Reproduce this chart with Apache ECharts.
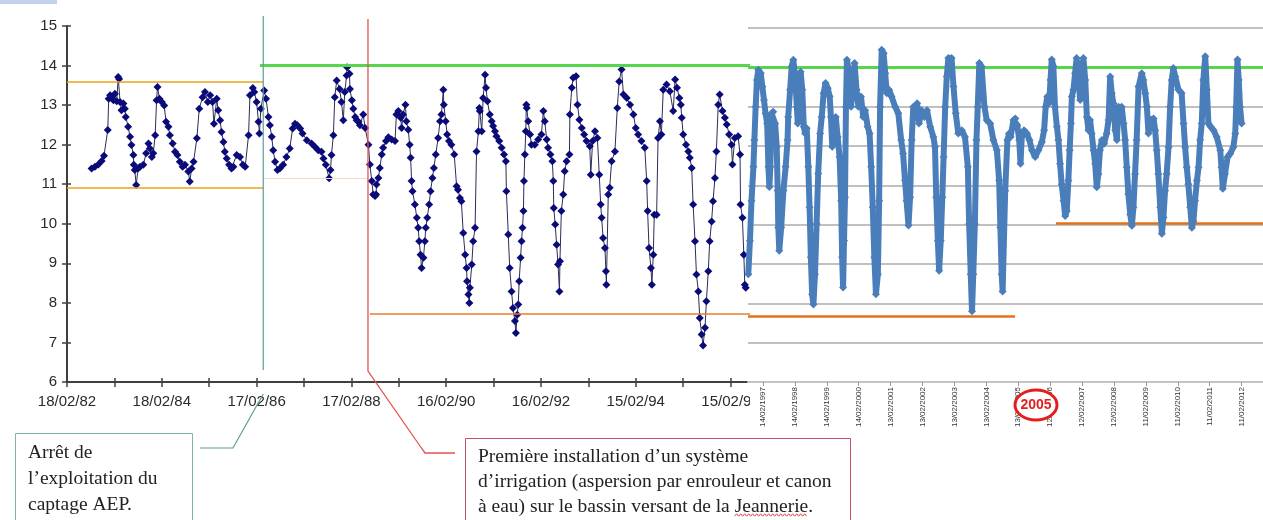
<!DOCTYPE html>
<html><head><meta charset="utf-8">
<script src="https://cdn.jsdelivr.net/npm/echarts@6/dist/echarts.min.js"></script>
<style>html,body{margin:0;padding:0;background:#fff}#c{width:1263px;height:520px}</style>
</head><body><div id="c"></div>
<script>
// ---- data: piezometric level (m) vs decimal year ----
const leftObservations = [[1982.65,11.40],[1982.72,11.44],[1982.79,11.50],[1982.86,11.59],[1982.91,11.72],[1982.99,12.37],[1983.01,13.16],[1983.04,13.25],[1983.07,13.18],[1983.11,13.12],[1983.14,13.29],[1983.18,13.10],[1983.21,13.71],[1983.23,13.66],[1983.25,13.08],[1983.28,12.87],[1983.32,13.04],[1983.35,12.91],[1983.37,12.70],[1983.42,12.45],[1983.46,12.20],[1983.49,11.99],[1983.53,11.74],[1983.54,11.49],[1983.56,11.36],[1983.59,10.98],[1983.63,11.40],[1983.67,11.44],[1983.74,11.49],[1983.80,11.78],[1983.85,12.03],[1983.88,11.90],[1983.92,11.69],[1983.95,11.78],[1983.99,12.24],[1984.02,13.12],[1984.04,13.46],[1984.08,13.16],[1984.13,13.08],[1984.18,12.99],[1984.22,12.58],[1984.27,12.45],[1984.30,12.24],[1984.36,12.03],[1984.41,11.82],[1984.46,11.74],[1984.51,11.57],[1984.57,11.44],[1984.62,11.49],[1984.69,11.32],[1984.72,11.07],[1984.76,11.40],[1984.80,11.57],[1984.87,12.16],[1984.92,12.91],[1984.99,13.20],[1985.04,13.33],[1985.10,13.08],[1985.15,13.25],[1985.20,13.08],[1985.23,12.53],[1985.29,13.16],[1985.32,12.87],[1985.36,12.62],[1985.39,12.32],[1985.43,12.07],[1985.46,11.82],[1985.50,11.65],[1985.55,11.49],[1985.60,11.40],[1985.64,11.44],[1985.71,11.74],[1985.78,11.69],[1985.84,11.49],[1985.89,11.44],[1985.96,12.24],[1985.99,13.25],[1986.05,13.43],[1986.08,13.33],[1986.13,13.08],[1986.17,12.58],[1986.19,12.28],[1986.22,12.91],[1986.29,13.37],[1986.33,13.16],[1986.38,12.70],[1986.41,12.49],[1986.45,12.20],[1986.48,11.86],[1986.52,11.57],[1986.57,11.36],[1986.62,11.40],[1986.69,11.49],[1986.76,11.69],[1986.83,11.90],[1986.89,12.41],[1986.94,12.53],[1986.99,12.49],[1987.05,12.41],[1987.10,12.28],[1987.19,12.11],[1987.29,12.03],[1987.36,11.95],[1987.43,11.86],[1987.50,11.82],[1987.54,11.65],[1987.59,11.49],[1987.66,11.15],[1987.69,11.36],[1987.71,11.74],[1987.75,12.24],[1987.78,13.20],[1987.82,13.62],[1987.88,13.41],[1987.92,13.08],[1987.96,12.62],[1987.99,13.33],[1988.03,13.75],[1988.04,13.96],[1988.09,13.79],[1988.10,13.41],[1988.14,13.12],[1988.17,12.91],[1988.21,12.70],[1988.24,12.62],[1988.28,12.58],[1988.31,12.49],[1988.38,12.76],[1988.42,12.42],
[1988.49,12.00],[1988.52,11.50],[1988.56,11.08],[1988.59,10.74],[1988.63,10.70],[1988.65,10.74],[1988.66,10.99],[1988.70,11.16],[1988.73,11.41],[1988.77,11.75],[1988.80,11.92],[1988.86,12.09],[1988.91,12.19],[1988.98,12.13],[1989.05,12.09],[1989.08,12.76],[1989.12,12.85],[1989.17,12.68],[1989.19,12.42],[1989.22,12.76],[1989.27,13.01],[1989.29,12.59],[1989.33,12.38],[1989.36,12.00],[1989.38,11.67],[1989.40,11.08],[1989.42,10.82],[1989.47,10.49],[1989.51,10.15],[1989.54,9.90],[1989.56,9.56],[1989.59,9.22],[1989.61,8.88],[1989.65,9.14],[1989.68,9.56],[1989.70,9.90],[1989.73,10.15],[1989.77,10.49],[1989.80,10.82],[1989.84,11.16],[1989.87,11.41],[1989.91,11.75],[1989.96,12.17],[1990.00,12.59],[1990.03,12.76],[1990.07,13.39],[1990.08,13.01],[1990.12,12.59],[1990.15,12.26],[1990.19,12.09],[1990.24,12.00],[1990.30,11.75],[1990.35,10.95],[1990.38,10.86],[1990.42,10.65],[1990.45,10.57],[1990.49,9.77],[1990.53,9.22],[1990.56,8.88],[1990.57,8.55],[1990.60,8.21],[1990.62,8.00],[1990.63,8.38],[1990.67,8.97],[1990.70,9.56],[1990.74,9.90],[1990.77,11.83],[1990.81,12.34],[1990.83,12.93],[1990.84,12.85],[1990.88,12.34],[1990.91,13.18],[1990.95,13.77],[1990.97,13.44],[1991.00,13.10],[1991.05,12.76],[1991.09,12.59],[1991.12,12.47],[1991.16,12.34],[1991.19,12.21],[1991.25,12.09],[1991.30,11.92],[1991.35,11.75],[1991.39,11.58],[1991.40,10.82],[1991.44,9.73],[1991.47,8.88],[1991.51,8.29],[1991.54,7.87],[1991.58,7.54],[1991.60,7.24],[1991.63,7.70],[1991.65,7.96],[1991.67,8.55],[1991.70,9.14],[1991.72,9.56],[1991.74,9.90],[1991.76,10.32],[1991.77,11.08],[1991.79,11.75],[1991.81,12.34],[1991.82,13.01],[1991.83,12.93],[1991.86,12.59],[1991.90,12.26],[1991.93,12.00],[1992.00,12.00],[1992.07,12.13],[1992.14,12.26],[1992.18,12.85],[1992.21,12.59],[1992.25,12.13],[1992.28,11.92],[1992.33,11.75],[1992.37,11.58],[1992.39,11.08],[1992.40,10.40],[1992.43,9.98],[1992.46,9.47],[1992.49,8.97],[1992.52,8.29],[1992.53,9.05],[1992.56,10.32],[1992.60,10.74],[1992.63,11.33],[1992.67,11.58],[1992.73,11.75],[1992.74,12.76],[1992.78,13.44],[1992.81,13.69],[1992.87,13.73],[1992.90,13.01],[1992.94,12.63],[1992.99,12.42],[1993.04,12.26],[1993.09,12.09],[1993.16,11.96],[1993.18,11.24],[1993.22,12.09],[1993.27,12.34],[1993.32,12.17],[1993.36,11.24],[1993.39,10.49],[1993.41,10.15],[1993.44,9.64],[1993.48,9.39],[1993.50,8.80],[1993.51,8.46],[1993.55,10.74],[1993.58,10.91],[1993.62,11.58],[1993.69,11.83],[1993.74,12.93],[1993.78,13.60],[1993.83,13.90],[1993.87,13.27],[1993.94,13.18],[1994.01,13.01],[1994.08,12.76],[1994.13,12.42],[1994.18,12.26],[1994.25,12.09],[1994.32,11.92],[1994.36,11.08],[1994.38,10.32],[1994.41,9.39],[1994.45,8.88],[1994.47,8.46],[1994.50,9.22],[1994.52,10.23],[1994.57,10.23],[1994.60,12.17],[1994.64,12.59],[1994.67,12.26],[1994.71,13.39],[1994.78,13.52],[1994.85,13.35],[1994.92,12.85],[1994.96,13.65],[1995.00,13.44],[1995.05,13.18],[1995.08,13.01],[1995.10,12.68],[1995.13,12.26],[1995.19,12.00],[1995.24,11.83],[1995.27,11.67],[1995.31,11.41],[1995.34,10.49],[1995.38,9.56],[1995.41,8.72],[1995.45,8.29],[1995.48,7.62],[1995.52,7.20],[1995.55,6.92],[1995.59,7.37],[1995.62,8.04],[1995.66,8.80],[1995.69,9.56],[1995.73,10.06],[1995.76,10.57],[1995.80,11.16],[1995.83,11.83],[1995.87,13.01],[1995.90,13.27],[1995.96,12.85],[1996.01,12.68],[1996.05,12.51],[1996.10,12.26],[1996.15,12.00],[1996.17,11.50],[1996.22,12.17],[1996.29,12.21],[1996.33,11.75],[1996.34,10.49],[1996.38,10.15],[1996.41,9.22],[1996.43,8.46],[1996.45,8.38]];

const rightObservations = [[1996.66,8.74],[1996.71,9.59],[1996.76,10.61],[1996.82,11.47],[1996.85,12.15],[1996.89,13.00],[1996.93,13.68],[1996.97,13.94],[1997.05,13.85],[1997.10,13.51],[1997.15,13.17],[1997.20,12.83],[1997.25,12.57],[1997.29,11.47],[1997.32,10.96],[1997.35,11.47],[1997.39,12.83],[1997.44,12.87],[1997.50,12.57],[1997.55,11.98],[1997.58,10.87],[1997.60,9.93],[1997.63,9.34],[1997.69,9.93],[1997.76,10.87],[1997.83,11.47],[1997.89,12.15],[1997.91,12.74],[1997.97,13.43],[1998.02,14.02],[1998.07,14.19],[1998.12,13.85],[1998.18,13.00],[1998.21,12.57],[1998.26,13.68],[1998.30,13.89],[1998.35,13.43],[1998.40,12.49],[1998.44,12.32],[1998.49,12.45],[1998.54,11.47],[1998.58,10.44],[1998.62,9.17],[1998.66,8.23],[1998.70,7.97],[1998.75,8.74],[1998.80,10.02],[1998.85,11.30],[1998.91,12.32],[1998.96,12.74],[1999.02,13.34],[1999.08,13.60],[1999.15,13.47],[1999.21,13.26],[1999.25,12.74],[1999.29,11.98],[1999.34,12.49],[1999.40,12.74],[1999.46,12.23],[1999.52,11.72],[1999.57,10.61],[1999.60,9.17],[1999.63,8.40],[1999.66,9.59],[1999.69,10.70],[1999.72,13.00],[1999.75,14.19],[1999.82,13.85],[1999.88,13.00],[1999.94,13.51],[1999.99,14.11],[2000.05,13.43],[2000.11,13.00],[2000.19,13.26],[2000.26,12.74],[2000.32,12.91],[2000.40,12.49],[2000.46,12.32],[2000.51,11.47],[2000.56,10.44],[2000.61,9.17],[2000.66,8.23],[2000.72,8.74],[2000.76,10.61],[2000.79,13.00],[2000.84,14.45],[2000.90,14.36],[2000.95,13.85],[2001.00,13.34],[2001.07,13.43],[2001.15,13.26],[2001.26,13.00],[2001.36,12.83],[2001.45,12.15],[2001.51,11.81],[2001.57,11.13],[2001.62,10.61],[2001.68,9.98],[2001.73,10.70],[2001.78,12.15],[2001.83,13.00],[2001.89,12.74],[2001.95,13.09],[2002.01,12.57],[2002.09,12.91],[2002.18,12.74],[2002.26,12.91],[2002.36,12.49],[2002.46,12.23],[2002.51,11.98],[2002.55,10.70],[2002.60,9.59],[2002.64,8.83],[2002.69,9.59],[2002.74,10.70],[2002.78,11.72],[2002.83,13.00],[2002.88,13.77],[2002.93,14.24],[2003.03,14.24],[2003.09,13.51],[2003.16,12.83],[2003.24,12.32],[2003.35,12.40],[2003.45,12.23],[2003.54,11.47],[2003.58,10.02],[2003.63,8.74],[2003.67,7.80],[2003.71,8.74],[2003.76,10.02],[2003.81,12.15],[2003.85,13.00],[2003.90,14.11],[2003.97,14.02],[2004.06,13.00],[2004.13,12.66],[2004.24,12.57],[2004.34,12.15],[2004.45,11.89],[2004.52,11.13],[2004.56,9.93],[2004.60,8.74],[2004.63,8.30],
[2004.71,10.86],[2004.78,12.15],[2004.83,12.32],[2004.88,12.23],[2004.97,12.66],[2005.03,12.70],[2005.09,12.53],[2005.15,12.15],[2005.19,11.55],[2005.23,12.23],[2005.30,12.40],[2005.39,12.32],[2005.47,12.15],[2005.55,11.89],[2005.65,11.72],[2005.75,11.89],[2005.86,12.10],[2005.93,12.40],[2005.98,13.00],[2006.03,13.26],[2006.09,13.09],[2006.13,13.68],[2006.17,14.20],[2006.22,14.03],[2006.27,13.00],[2006.33,12.49],[2006.38,12.15],[2006.43,11.55],[2006.48,11.03],[2006.54,10.61],[2006.59,10.22],[2006.64,10.35],[2006.69,11.12],[2006.73,11.89],[2006.77,12.57],[2006.80,13.26],[2006.85,13.43],[2006.90,13.85],[2006.95,14.24],[2007.01,13.68],[2007.06,13.17],[2007.11,13.77],[2007.16,14.24],[2007.22,13.68],[2007.27,12.74],[2007.32,12.40],[2007.37,12.66],[2007.42,12.32],[2007.48,11.89],[2007.53,11.55],[2007.58,10.95],[2007.63,11.29],[2007.68,11.89],[2007.74,12.15],[2007.81,12.06],[2007.89,12.32],[2007.95,12.66],[2008.00,13.77],[2008.05,13.34],[2008.10,13.09],[2008.16,12.40],[2008.21,12.15],[2008.26,13.00],[2008.31,12.74],[2008.36,13.00],[2008.42,12.57],[2008.47,12.15],[2008.52,11.46],[2008.57,10.78],[2008.63,10.26],[2008.68,9.97],[2008.73,10.44],[2008.78,11.29],[2008.83,12.15],[2008.89,13.51],[2008.99,13.85],[2009.04,13.68],[2009.10,13.34],[2009.15,13.00],[2009.20,12.32],[2009.27,12.66],[2009.36,12.70],[2009.41,12.40],[2009.46,11.89],[2009.51,11.29],[2009.57,10.44],[2009.62,9.77],[2009.67,10.18],[2009.72,10.86],[2009.77,11.29],[2009.83,11.97],[2009.88,13.00],[2009.93,13.68],[2009.98,13.98],[2010.04,13.77],[2010.14,13.43],[2010.24,13.34],[2010.30,12.57],[2010.35,11.97],[2010.40,11.46],[2010.45,11.03],[2010.51,10.44],[2010.56,9.92],[2010.61,10.09],[2010.66,10.61],[2010.72,11.12],[2010.77,11.46],[2010.82,12.15],[2010.87,12.57],[2010.92,13.68],[2010.98,14.28],[2011.03,13.43],[2011.08,12.57],[2011.15,12.49],[2011.24,12.40],[2011.34,12.23],[2011.45,11.89],[2011.49,11.46],[2011.53,10.91],[2011.60,11.29],[2011.68,11.72],[2011.76,11.80],[2011.86,11.97],[2011.92,12.32],[2011.95,13.00],[2011.99,14.20],[2012.03,13.68],[2012.07,13.00],[2012.12,12.57]];

// ---- axes ----
const leftTickYears = [1982.13,1983.13,1984.13,1985.13,1986.13,1987.13,1988.13,1989.13,1990.13,1991.13,1992.13,1993.13,1994.13,1995.13,1996.13];
const leftLabelYears = [1982.13,1984.13,1986.13,1988.13,1990.13,1992.13,1994.13,1996.13];
const leftLabels = ['18/02/82','18/02/84','17/02/86','17/02/88','16/02/90','16/02/92','15/02/94','15/02/96'];
const rightTickYears = [1997.12,1998.12,1999.12,2000.12,2001.12,2002.12,2003.12,2004.12,2005.12,2006.12,2007.12,2008.12,2009.12,2010.12,2011.12,2012.12];
const rightLabels = ['14/02/1997','14/02/1998','14/02/1999','14/02/2000','13/02/2001','13/02/2002','13/02/2003','13/02/2004','13/02/2005','12/02/2006','12/02/2007','12/02/2008','11/02/2009','11/02/2010','11/02/2011','11/02/2012'];

// ---- reference levels (m) and their date spans ----
const leftRefLevels = [13.6, 10.9, 11.15, 7.72, 14.0];
const leftRefFrom   = [1982.13, 1982.13, 1986.27, 1988.52, 1986.20];
const leftRefTo     = [1986.27, 1986.27, 1988.46, 1996.54, 1996.54];
const rightRefLevels = [14.0, 7.67, 10.04];
const rightRefFrom   = [1996.65, 1996.65, 2006.30];
const rightRefTo     = [2012.79, 2005.02, 2012.79];
// events: end of AEP pumping, first irrigation
const eventYears = [1986.27, 1988.48];

const leftRefStyles = [{color:'#e8a317',width:1.5,type:'solid'},{color:'#e8a317',width:1.5,type:'solid'},{color:'#f1dcc2',width:1,type:'solid'},{color:'#ea7d2c',width:1.5,type:'solid'},{color:'#55d64b',width:3,type:'solid'}];
const rightRefStyles = [{color:'#55d64b',width:3,type:'solid'},{color:'#e3701a',width:2.5,type:'solid'},{color:'#e3701a',width:2.5,type:'solid'}];

function lab(years, labels){ return v => { const i = years.findIndex(y => Math.abs(y - v) < 1e-6); return i < 0 ? '' : labels[i]; }; }
function refLines(levels, from, to, styles){
  return levels.map((l,i) => [{coord:[from[i], l], lineStyle: styles[i]}, {coord:[to[i], l]}]);
}

const chart = echarts.init(document.getElementById('c'));
const axCol = '#404040';
const LMIN = 1982.13, LMAX = 1996.54, RMIN = 1996.65, RMAX = 2012.79;

chart.setOption({
  animation: false,
  grid: [
    {left:67, top:26, width:683, height:356, outerBoundsMode:'none'},
    {left:748, top:28, width:515, height:354, outerBoundsMode:'none'}
  ],
  xAxis: [
    {gridIndex:0, type:'value', position:'bottom', min:LMIN, max:LMAX, z:1,
     axisLine:{show:true, onZero:false, lineStyle:{color:axCol, width:2}},
     axisTick:{show:true, customValues:leftTickYears, length:5, lineStyle:{color:axCol, width:1.5}},
     axisLabel:{show:true, customValues:leftLabelYears, formatter:lab(leftLabelYears, leftLabels), color:'#2a2a2a', fontSize:15, fontFamily:'"Liberation Sans", Arial', margin:12},
     splitLine:{show:false}},
    {gridIndex:0, type:'value', position:'bottom', offset:0, min:LMIN, max:LMAX, z:1,
     axisLine:{show:false, onZero:false},
     axisTick:{show:true, inside:true, customValues:leftTickYears, length:4, lineStyle:{color:axCol, width:1.5}},
     axisLabel:{show:false}, splitLine:{show:false}},
    {gridIndex:1, type:'value', position:'bottom', min:RMIN, max:RMAX, z:4,
     axisLine:{show:true, onZero:false, lineStyle:{color:'#c3c3c3', width:2}},
     axisTick:{show:true, customValues:rightTickYears, length:4, lineStyle:{color:'#9a9a9a', width:1}},
     axisLabel:{show:true, customValues:rightTickYears, formatter:lab(rightTickYears, rightLabels), rotate:90, color:'#333', fontSize:8, fontFamily:'"Liberation Sans", Arial', margin:5},
     splitLine:{show:false}}
  ],
  yAxis: [
    {gridIndex:0, type:'value', position:'left', min:6, max:15, interval:1, z:1,
     axisLine:{show:true, onZero:false, lineStyle:{color:axCol, width:2}},
     axisTick:{show:true, length:5, lineStyle:{color:axCol, width:1.5}},
     axisLabel:{show:true, color:'#2a2a2a', fontSize:15, fontFamily:'"Liberation Sans", Arial', margin:10},
     splitLine:{show:false}},
    {gridIndex:0, type:'value', position:'left', offset:0, min:6, max:15, interval:1, z:1,
     axisLine:{show:false, onZero:false},
     axisTick:{show:true, inside:true, length:4, lineStyle:{color:axCol, width:1.5}},
     axisLabel:{show:false}, splitLine:{show:false}},
    {gridIndex:1, type:'value', position:'left', min:6, max:15, interval:1, z:4,
     axisLine:{show:false, onZero:false}, axisTick:{show:false}, axisLabel:{show:false},
     splitLine:{show:true, lineStyle:{color:'#ababab', width:1.5}}}
  ],
  series: [
    {type:'line', xAxisIndex:0, yAxisIndex:0, z:2, silent:true,
     data:leftObservations, symbol:'diamond', symbolSize:8, showSymbol:true, showAllSymbol:true,
     lineStyle:{color:'#2c2c58', width:1}, itemStyle:{color:'#0a0a78'}, emphasis:{disabled:true},
     markLine:{silent:true, symbol:['none','none'], label:{show:false}, emphasis:{disabled:true}, animation:false,
       lineStyle:{type:'solid'},
       data: refLines(leftRefLevels, leftRefFrom, leftRefTo, leftRefStyles)}},
    {type:'line', xAxisIndex:2, yAxisIndex:2, z:5, silent:true,
     data:rightObservations, symbol:'diamond', symbolSize:8, showSymbol:true, showAllSymbol:true,
     lineStyle:{color:'#4a7ebb', width:6}, itemStyle:{color:'#4a7ebb'}, emphasis:{disabled:true},
     markLine:{silent:true, symbol:['none','none'], label:{show:false}, emphasis:{disabled:true}, animation:false,
       lineStyle:{type:'solid'},
       data: refLines(rightRefLevels, rightRefFrom, rightRefTo, rightRefStyles)}}
  ]
});

// ---- annotations (positions of event lines come from the axis scale) ----
const xT = chart.convertToPixel({seriesIndex:0}, [eventYears[0], 10])[0];
const xR = chart.convertToPixel({seriesIndex:0}, [eventYears[1], 10])[0];
const xCover = chart.convertToPixel({seriesIndex:0}, [LMAX, 10])[0];

const serif = '19.5px "Liberation Serif", "DejaVu Serif", serif';
const mctx = document.createElement('canvas').getContext('2d');
mctx.font = serif;
const line3Pre = 'à eau) sur le bassin versant de la ';
const ulX0 = 478 + mctx.measureText(line3Pre).width;
const ulW = mctx.measureText('Jeannerie').width;
const wave = [];
for (let x = 0, k = 0; x <= ulW; x += 2, k++) wave.push([ulX0 + x, 515 + (k % 2 ? -1.2 : 1.2)]);

const txt = (x, y, s) => ({type:'text', x, y, z:12, style:{text:s, font:serif, fill:'#222', verticalAlign:'middle'}});

chart.setOption({
  graphic: {elements: [
    {type:'rect', z:3, shape:{x:xCover, y:0, width:1263 - xCover, height:520}, style:{fill:'#fff'}},
    {type:'rect', z:3, shape:{x:0, y:0, width:57, height:4}, style:{fill:'#c3d3ec'}},
    // end of AEP pumping
    {type:'line', z:6, shape:{x1:xT, y1:16, x2:xT, y2:370}, style:{stroke:'#5e9c92', lineWidth:1.2}},
    {type:'polyline', z:6, shape:{points:[[xT, 394],[233, 448],[200, 448]]}, style:{stroke:'#5e9c92', lineWidth:1.2, fill:null}},
    // first irrigation
    {type:'polyline', z:6, shape:{points:[[xR, 19],[xR, 371],[420, 446],[425, 453],[455, 453]]}, style:{stroke:'#e65252', lineWidth:1.3, fill:null}},
    // boxes
    {type:'rect', z:11, shape:{x:15.5, y:433.5, width:177, height:100}, style:{fill:'#fff', stroke:'#7fb3ab', lineWidth:1}},
    {type:'rect', z:11, shape:{x:465.5, y:438.5, width:385, height:100}, style:{fill:'#fff', stroke:'#c45365', lineWidth:1}},
    txt(28, 453, 'Arrêt de'),
    txt(28, 479, 'l’exploitation du'),
    txt(28, 505, 'captage AEP.'),
    txt(478, 457, 'Première installation d’un système'),
    txt(478, 482, 'd’irrigation (aspersion par enrouleur et canon'),
    txt(478, 507, line3Pre + 'Jeannerie.'),
    {type:'polyline', z:12, shape:{points:wave}, style:{stroke:'#d84444', lineWidth:1, fill:null}},
    // 2005 mark
    {type:'ellipse', z:12, shape:{cx:1036, cy:405, rx:21, ry:15}, style:{fill:'#fff', stroke:'#e41e1e', lineWidth:3}},
    {type:'text', z:13, x:1036, y:405, style:{text:'2005', font:'bold 14px "Liberation Sans", Arial', fill:'#e41e1e', align:'center', verticalAlign:'middle'}}
  ]}
});
</script></body></html>
